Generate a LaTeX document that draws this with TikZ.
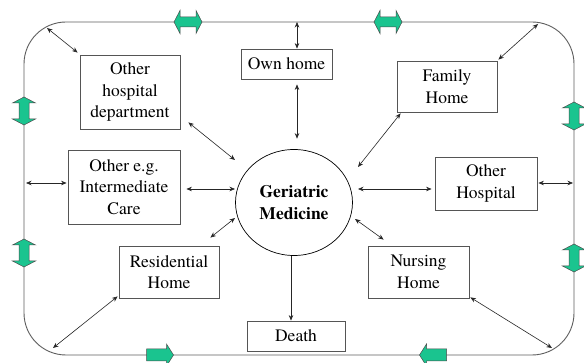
\documentclass[tikz,border=0pt]{standalone}
\usepackage{fontspec}
\setmainfont{texgyretermes}[Extension=.otf, UprightFont=*-regular, BoldFont=*-bold]
\usetikzlibrary{shapes.geometric,arrows.meta,calc}
\definecolor{framegray}{RGB}{95,95,95}
\definecolor{boxgray}{RGB}{85,85,85}
\definecolor{flowgreen}{RGB}{26,196,143}
\tikzset{
  box/.style={draw=boxgray, line width=0.8pt, rectangle, align=center, inner sep=0pt,
    font=\rmfamily\fontsize{17.5}{21.5}\selectfont},
  hub/.style={draw=black, line width=0.7pt, ellipse, align=center, inner sep=0pt,
    minimum width=117pt, minimum height=106pt, font=\rmfamily\bfseries\fontsize{17.5}{22}\selectfont},
  link/.style={draw=black!85, line width=0.6pt,
    {Stealth[length=5.5pt,width=4.5pt]}-{Stealth[length=5.5pt,width=4.5pt]}},
  feed/.style={draw=black!85, line width=0.6pt, -{Stealth[length=5.5pt,width=4.5pt]}},
  flowdbl/.pic={
    \filldraw[fill=flowgreen, draw=black!70, line width=0.5pt]
      (-14,0) -- (-8,-11.5) -- (-8,-5) -- (8,-5) -- (8,-11.5) -- (14,0)
      -- (8,11.5) -- (8,5) -- (-8,5) -- (-8,11.5) -- cycle;},
  flowone/.pic={
    \filldraw[fill=flowgreen, draw=black!70, line width=0.5pt]
      (-13.5,-6) -- (6.5,-6) -- (6.5,-11) -- (13.5,0) -- (6.5,11) -- (6.5,6)
      -- (-13.5,6) -- cycle;}
}
\begin{document}
\begin{tikzpicture}[x=1pt,y=-1pt]
\useasboundingbox (0,0) rectangle (584,363);
\fill[white] (0,0) rectangle (584,363);

% outer care pathway loop
\draw[framegray, line width=0.9pt, rounded corners=42pt] (24,22) rectangle (574,355);

% free ends of the connectors on the loop
\coordinate (tnw) at (47,28);
\coordinate (tne) at (538,24);
\coordinate (tsw) at (53,348);
\coordinate (tse) at (552,348);
\coordinate (tl) at (24,183);
\coordinate (tr) at (574,183);
\coordinate (tt) at (297,22);

% direction markers on the loop
\pic at (188,22) {flowdbl};
\pic at (388,22) {flowdbl};
\pic[rotate=90] at (24,111) {flowdbl};
\pic[rotate=90] at (24,253) {flowdbl};
\pic[rotate=90] at (574,116) {flowdbl};
\pic[rotate=90] at (574,258) {flowdbl};
\pic at (160,355) {flowone};
\pic[rotate=180] at (433,355) {flowone};

% settings
\node[box, minimum width=91pt, minimum height=30pt] (own) at (286.5,64) {Own home};
\node[box, minimum width=100pt, minimum height=74pt] (ohd) at (130,92) {Other\\hospital\\department};
\node[box, minimum width=100pt, minimum height=51pt] (fam) at (447,86.5) {Family\\Home};
\node[box, minimum width=112pt, minimum height=74pt] (oeg) at (124,187) {Other e.g.\\Intermediate\\Care};
\node[box, minimum width=102pt, minimum height=53pt] (oh) at (486,183.5) {Other\\Hospital};
\node[box, minimum width=100pt, minimum height=52pt] (res) at (169,272) {Residential\\Home};
\node[box, minimum width=101pt, minimum height=52pt] (nurs) at (418.5,272) {Nursing\\Home};
\node[box, minimum width=98pt, minimum height=30pt] (death) at (296,336) {Death};
\node[hub] (hub) at (294,202.5) {Geriatric\\Medicine};

% links to the loop
\draw[link] (tt) -- (own.north -| tt);
\draw[link] (tnw) -- ([xshift=-2pt,yshift=2pt]ohd.north west);
\draw[link] (tne) -- ([xshift=1pt,yshift=1pt]fam.north east);
\draw[link] (tsw) -- ([xshift=-1pt,yshift=2pt]res.south west);
\draw[link] (tse) -- ([xshift=1pt,yshift=1pt]nurs.south east);
\draw[link, shorten <=2pt, shorten >=1pt] (tl) -- (oeg.west |- tl);
\draw[link, shorten <=1pt, shorten >=1pt] (tr) -- (oh.east |- tr);

% links to the hub
\draw[link, shorten <=5pt] (own.south -| tt) -- ($(hub.north -| tt)+(0,-10.5)$);
\draw[link] ([xshift=8pt,yshift=7pt]ohd.south east) -- ($(hub)+(-59,-42.5)$);
\draw[link] ([xshift=4pt,yshift=-1pt]fam.south west) -- ($(hub)+(64,-35.5)$);
\draw[link] ([xshift=6pt,yshift=-2pt]oeg.east) -- ($(hub)+(-59,-13.5)$);
\draw[link] ([xshift=-3pt,yshift=-5.5pt]oh.west) -- ($(hub)+(64,-13.5)$);
\draw[link] ([xshift=-9pt,yshift=8pt]res.north east) -- ($(hub)+(-59,15.5)$);
\draw[link] ([xshift=16pt,yshift=6pt]nurs.north west) -- ($(hub)+(61,16.5)$);
\draw[feed] ([xshift=-3pt]hub.south) -- ([xshift=-3pt]death.north -| hub.south);
\end{tikzpicture}
\end{document}
